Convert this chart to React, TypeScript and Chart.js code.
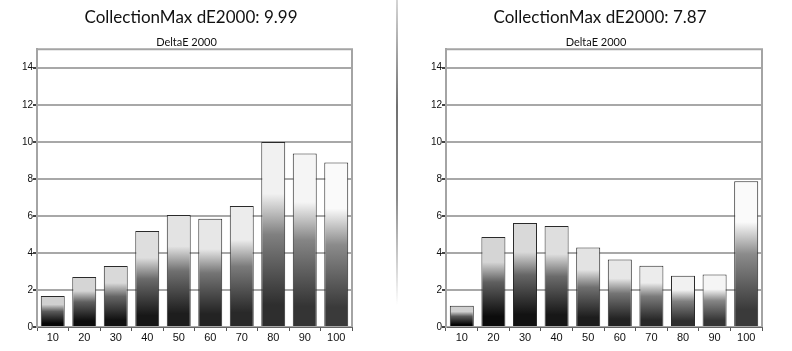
import React, { useEffect, useRef } from "react";
import { Chart, registerables } from "chart.js";
Chart.register(...registerables);

const categories = ["10", "20", "30", "40", "50", "60", "70", "80", "90", "100"];
const leftValues = [1.68, 2.7, 3.3, 5.19, 6.05, 5.84, 6.54, 9.99, 9.37, 8.88];
const rightValues = [1.15, 4.86, 5.62, 5.46, 4.29, 3.64, 3.31, 2.77, 2.83, 7.87];
const yTickValues = [0, 2, 4, 6, 8, 10, 12, 14];
const yMin = 0;
const yMax = 15;
const leftTitle = "CollectionMax dE2000: 9.99";
const rightTitle = "CollectionMax dE2000: 7.87";
const subtitleText = "DeltaE 2000";

function lerp(a: number, b: number, t: number) {
  return Math.round(a + (b - a) * t);
}
function grey(v: number) {
  return `rgb(${v},${v},${v})`;
}

const frame = {
  id: "frame",
  afterDraw(chart: any) {
    const { ctx, chartArea } = chart;
    if (!chartArea) return;
    ctx.save();
    ctx.strokeStyle = "#a4a4a4";
    ctx.lineWidth = 2;
    ctx.beginPath();
    ctx.moveTo(chartArea.left, chartArea.top);
    ctx.lineTo(chartArea.right, chartArea.top);
    ctx.lineTo(chartArea.right, chartArea.bottom);
    ctx.stroke();
    ctx.restore();
  },
};

function makeConfig(values: number[], padL: number, padR: number): any {
  const n = values.length;
  return {
    type: "bar",
    data: {
      labels: categories,
      datasets: [
        {
          data: values,
          backgroundColor: (c: any) => {
            const chart = c.chart;
            const ys = chart.scales && chart.scales.y;
            if (!ys || !chart.chartArea) return "#888";
            const v = c.raw as number;
            const yb = ys.getPixelForValue(0);
            const yt = ys.getPixelForValue(v);
            const t = c.dataIndex / (n - 1);
            const top = lerp(208, 250, t);
            const bot = lerp(6, 58, t);
            const mid = lerp(bot, top, 0.42);
            const g = chart.ctx.createLinearGradient(0, yb, 0, yt);
            g.addColorStop(0, grey(bot));
            g.addColorStop(0.12, grey(bot));
            g.addColorStop(0.5, grey(mid));
            g.addColorStop(0.72, grey(top));
            g.addColorStop(1, grey(top));
            return g;
          },
          borderColor: "#2a2a2a",
          borderWidth: 1,
          barPercentage: 0.76,
          categoryPercentage: 1,
        },
      ],
    },
    options: {
      animation: false,
      responsive: false,
      maintainAspectRatio: false,
      layout: { padding: { left: padL, right: padR, top: 0, bottom: 0 } },
      plugins: {
        legend: { display: false },
        tooltip: { enabled: false },
        title: {
          display: true,
          text: subtitleText,
          color: "#111",
          font: { family: "Lato, 'Liberation Sans', sans-serif", size: 11, weight: "normal", lineHeight: 1.2 },
          padding: { top: 36, bottom: 0 },
        },
      },
      scales: {
        x: {
          type: "category",
          afterFit: (s: any) => {
            s.height = 24;
          },
          grid: {
            offset: true,
            drawOnChartArea: false,
            drawTicks: true,
            tickLength: 4,
            tickColor: "#555",
          },
          border: { display: true, color: "#666", width: 1 },
          ticks: {
            color: "#111",
            padding: 0,
            font: { family: "'Liberation Sans', sans-serif", size: 11 },
          },
        },
        y: {
          min: yMin,
          max: yMax,
          afterFit: (s: any) => {
            s.width = 16;
          },
          afterBuildTicks: (s: any) => {
            s.ticks = yTickValues.map((v) => ({ value: v }));
          },
          grid: {
            color: "#a8a8a8",
            lineWidth: 2,
            tickLength: 4,
            tickColor: "#444",
          },
          border: { display: true, color: "#a4a4a4", width: 2 },
          ticks: {
            stepSize: 2,
            color: "#111",
            padding: 0,
            font: { family: "'Liberation Sans', sans-serif", size: 10 },
          },
        },
      },
    },
    plugins: [frame],
  };
}

function BarChart(props: { values: number[]; padL: number; padR: number }) {
  const ref = useRef<HTMLCanvasElement | null>(null);
  useEffect(() => {
    if (!ref.current) return;
    const chart = new Chart(ref.current, makeConfig(props.values, props.padL, props.padR));
    return () => chart.destroy();
  }, []);
  return <canvas ref={ref} width={396} height={351} style={{ width: 396, height: 351, display: "block" }} />;
}

const titleStyle: React.CSSProperties = {
  position: "absolute",
  top: 6,
  textAlign: "center",
  fontFamily: "Lato, 'Open Sans', sans-serif",
  fontSize: 17,
  lineHeight: "22px",
  color: "#111",
  whiteSpace: "nowrap",
};

export default function App() {
  return (
    <div style={{ position: "fixed", left: 0, top: 0, width: 792, height: 351, background: "#fff", overflow: "hidden" }}>
      <div style={{ position: "absolute", left: 0, top: 0 }}>
        <BarChart values={leftValues} padL={21} padR={44} />
      </div>
      <div style={{ position: "absolute", left: 396, top: 0 }}>
        <BarChart values={rightValues} padL={34} padR={30} />
      </div>
      <div style={{ ...titleStyle, left: 0, width: 382 }}>{leftTitle}</div>
      <div style={{ ...titleStyle, left: 400, width: 400 }}>{rightTitle}</div>
      <div
        style={{
          position: "absolute",
          left: 396,
          top: 0,
          width: 2,
          height: 305,
          background: "linear-gradient(to bottom, rgba(150,150,150,0.4) 0%, #707070 35%, #8a8a8a 65%, rgba(200,200,200,0) 100%)",
        }}
      />
    </div>
  );
}
